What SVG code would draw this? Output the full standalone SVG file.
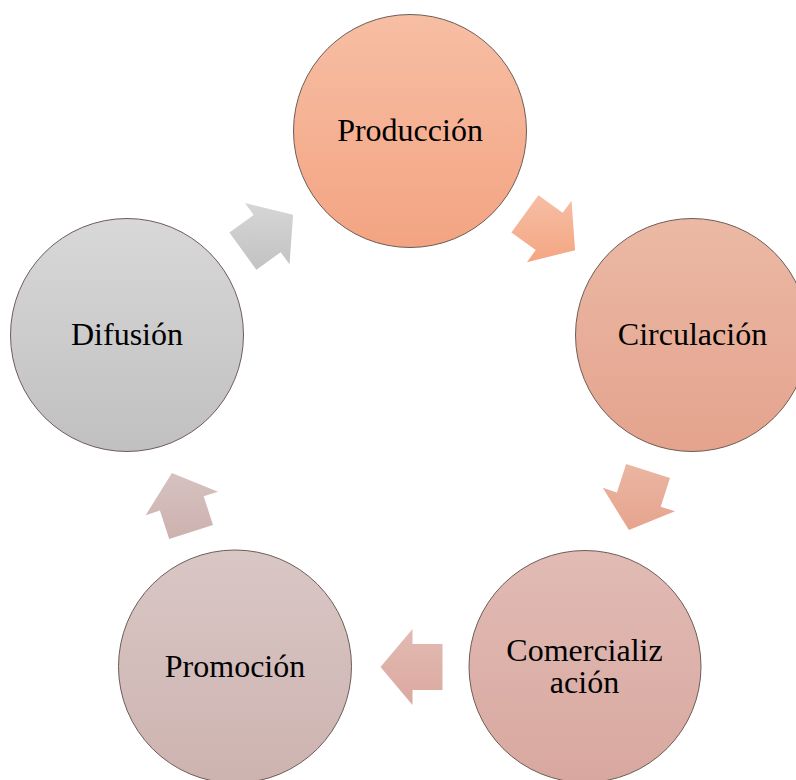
<svg xmlns="http://www.w3.org/2000/svg" width="796" height="780" viewBox="0 0 796 780">
<defs>
  <linearGradient id="gProd" x1="0" y1="0" x2="0" y2="1"><stop offset="0" stop-color="#f7bea4"/><stop offset="1" stop-color="#f3a482"/></linearGradient>
  <linearGradient id="gCirc" x1="0" y1="0" x2="0" y2="1"><stop offset="0" stop-color="#ebb9a5"/><stop offset="1" stop-color="#e4a38d"/></linearGradient>
  <linearGradient id="gCom" x1="0" y1="0" x2="0" y2="1"><stop offset="0" stop-color="#e1bbb4"/><stop offset="1" stop-color="#d8a89f"/></linearGradient>
  <linearGradient id="gPro" x1="0" y1="0" x2="0" y2="1"><stop offset="0" stop-color="#d9c7c5"/><stop offset="1" stop-color="#cdb3b0"/></linearGradient>
  <linearGradient id="gDif" x1="0" y1="0" x2="0" y2="1"><stop offset="0" stop-color="#d8d8d8"/><stop offset="1" stop-color="#c0c0c0"/></linearGradient>
  <linearGradient id="a1" x1="0" y1="0" x2="0" y2="1"><stop offset="0" stop-color="#f6bea4"/><stop offset="1" stop-color="#f4a683"/></linearGradient>
  <linearGradient id="a2" x1="0" y1="0" x2="0" y2="1"><stop offset="0" stop-color="#eab6a2"/><stop offset="1" stop-color="#e6a48e"/></linearGradient>
  <linearGradient id="a3" x1="0" y1="0" x2="0" y2="1"><stop offset="0" stop-color="#e2bab2"/><stop offset="1" stop-color="#dba99f"/></linearGradient>
  <linearGradient id="a4" x1="0" y1="0" x2="0" y2="1"><stop offset="0" stop-color="#d6c2c1"/><stop offset="1" stop-color="#cdb1ae"/></linearGradient>
  <linearGradient id="a5" x1="0" y1="0" x2="0" y2="1"><stop offset="0" stop-color="#d6d6d6"/><stop offset="1" stop-color="#c2c2c2"/></linearGradient>
</defs>
<style>
  .node { stroke: #6e5c57; stroke-width: 1; }
  .label { font-family: "Liberation Serif", "Times New Roman", serif; font-size: 32px; fill: #000; text-anchor: middle; }
</style>
<rect width="796" height="780" fill="#ffffff"/>
<g id="connectors">
  <polygon fill="url(#a1)" points="538.4,195.2 562.7,212.8 571.5,200.7 575.1,250.2 526.9,262.2 535.7,250.0 511.4,232.4"/>
  <polygon fill="url(#a2)" points="670.0,478.1 660.7,506.7 675.0,511.3 628.9,530.0 602.7,487.8 616.9,492.4 626.2,463.9"/>
  <polygon fill="url(#a3)" points="442.5,690 412.5,690 412.5,705 380.5,667 412.5,629 412.5,644 442.5,644"/>
  <polygon fill="url(#a4)" points="169.2,539.1 159.9,510.6 145.7,515.2 171.9,473.0 218.0,491.7 203.7,496.3 213.0,524.9"/>
  <polygon fill="url(#a5)" points="229.4,232.6 253.7,215.0 244.9,202.9 293.1,214.8 289.5,264.3 280.7,252.2 256.4,269.8"/>
</g>
<g id="produccion">
  <circle class="node" cx="410" cy="131" r="116.5" fill="url(#gProd)"/>
  <text class="label" x="410" y="141">Producción</text>
</g>
<g id="circulacion">
  <circle class="node" cx="692" cy="335" r="116.5" fill="url(#gCirc)"/>
  <text class="label" x="692.5" y="345">Circulación</text>
</g>
<g id="comercializacion">
  <circle class="node" cx="585" cy="666.5" r="116" fill="url(#gCom)"/>
  <text class="label" x="584.5" y="661"><tspan x="584.5" y="661">Comercializ</tspan><tspan x="584.5" y="693">ación</tspan></text>
</g>
<g id="promocion">
  <circle class="node" cx="235" cy="666.5" r="116.5" fill="url(#gPro)"/>
  <text class="label" x="235" y="677">Promoción</text>
</g>
<g id="difusion">
  <circle class="node" cx="127" cy="335" r="116.5" fill="url(#gDif)"/>
  <text class="label" x="127" y="345">Difusión</text>
</g>
</svg>
